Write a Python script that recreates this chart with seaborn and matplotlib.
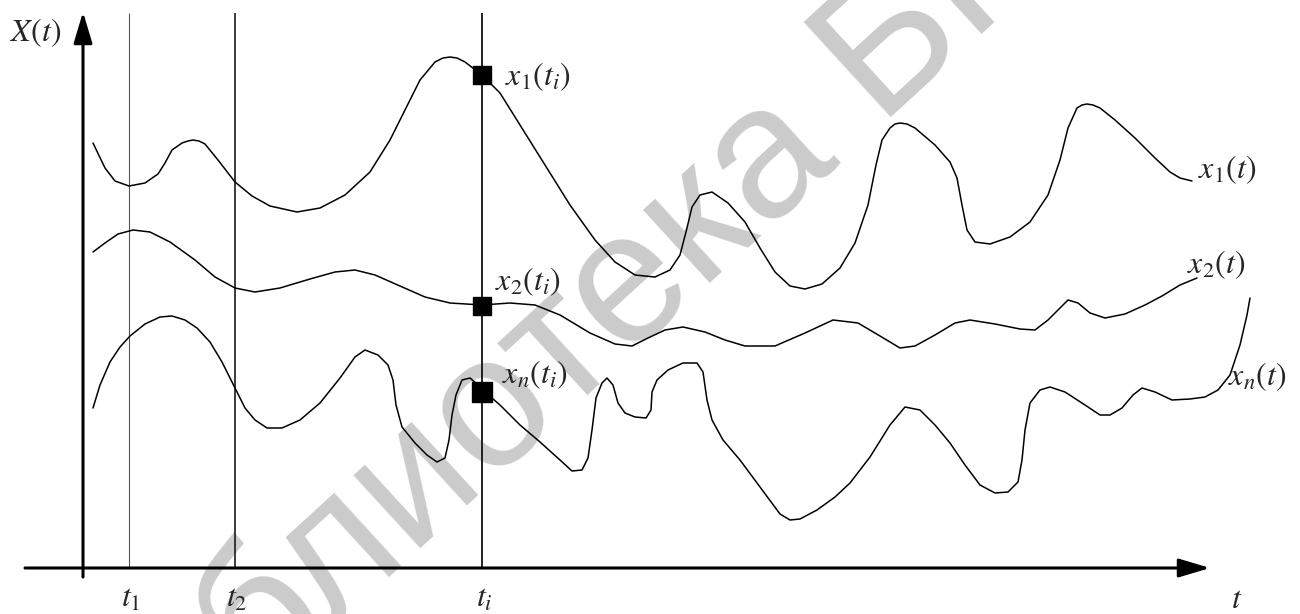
import numpy as np
import pandas as pd
import matplotlib
matplotlib.use("Agg")
import matplotlib.pyplot as plt
import seaborn as sns

# readings: t along the time axis, X up from the t axis
x1_t = [10, 22, 32, 46, 62, 75, 82, 89, 99, 105, 110, 116, 122, 135, 152, 169, 187, 214, 237, 262, 287, 307,
        322, 337, 352, 360, 367, 374, 382, 399, 417, 437, 462, 487, 512, 532, 552, 572, 587, 597, 603, 609, 617, 629,
        645, 662, 677, 692, 707, 722, 739, 757, 772, 785, 793, 799, 807, 812, 817, 824, 832, 852, 867, 874, 879, 884,
        892, 907, 927, 947, 965, 977, 985, 994, 999, 1004, 1010, 1017, 1032, 1052, 1072, 1087, 1097, 1109]
x1_X = [425, 400, 387, 382, 385, 394, 405, 418, 425, 427, 428, 427, 424, 408, 386, 372, 362, 356, 360, 373, 396, 428,
        458, 488, 506, 510, 511, 510, 506, 493, 475, 443, 403, 363, 328, 306, 293, 291, 298, 313, 336, 361, 373, 376,
        365, 346, 320, 296, 282, 279, 284, 300, 325, 363, 403, 428, 440, 444, 445, 444, 440, 423, 406, 390, 363, 338,
        326, 324, 331, 346, 373, 408, 440, 460, 463, 464, 463, 460, 448, 430, 410, 396, 390, 387]

x2_t = [10, 22, 35, 50, 67, 87, 112, 132, 152, 172, 197, 227, 252, 272, 292, 317, 342, 367, 399, 427,
        452, 477, 507, 532, 549, 565, 582, 600, 622, 642, 662, 692, 722, 750, 775, 797, 817, 832, 852, 872,
        887, 912, 937, 952, 965, 977, 985, 995, 1007, 1022, 1042, 1062, 1079, 1097, 1114]
x2_X = [316, 325, 334, 338, 336, 326, 308, 291, 280, 276, 280, 289, 296, 298, 293, 282, 271, 265, 263, 265,
        263, 253, 235, 224, 222, 230, 238, 241, 236, 228, 222, 222, 235, 248, 245, 232, 220, 222, 233, 245,
        248, 244, 239, 238, 248, 260, 268, 265, 255, 250, 254, 263, 272, 283, 290]

xn_t = [10, 17, 27, 37, 47, 62, 77, 89, 102, 114, 127, 139, 152, 162, 172, 184, 199, 217, 237, 257,
        272, 282, 295, 305, 310, 313, 319, 332, 344, 354, 362, 366, 369, 373, 379, 387, 395, 402, 417, 437,
        457, 477, 489, 499, 505, 509, 513, 519, 524, 530, 535, 542, 552, 563, 568, 569, 574, 585, 600, 614,
        620, 624, 629, 640, 657, 677, 697, 707, 717, 734, 752, 767, 787, 807, 822, 837, 852, 867, 882, 897,
        912, 925, 935, 939, 942, 947, 957, 967, 982, 1002, 1017, 1027, 1039, 1050, 1059, 1072, 1089, 1107,
        1122, 1135, 1147, 1157, 1164, 1167]
xn_X = [160, 183, 206, 221, 232, 244, 251, 252, 248, 240, 226, 206, 180, 160, 148, 140, 140, 148, 165, 190,
        211, 218, 213, 203, 188, 163, 141, 125, 113, 106, 110, 128, 153, 173, 188, 190, 183, 176, 163, 143,
        126, 108, 97, 98, 110, 138, 170, 185, 190, 183, 165, 155, 151, 150, 158, 176, 188, 198, 205, 205,
        196, 168, 148, 128, 108, 81, 54, 48, 49, 58, 71, 85, 111, 143, 161, 158, 143, 125, 103, 83,
        75, 76, 86, 108, 138, 165, 178, 181, 176, 163, 153, 153, 160, 173, 180, 176, 168, 169,
        171, 178, 193, 223, 253, 270]

# time cuts and the values read at t_i
cut_times = [46, 152, 399]
cut_labels = [r"$t_1$", r"$t_2$", r"$t_i$"]
ti_values = [493, 262, 176]
ti_labels = [r"$x_1(t_i)$", r"$x_2(t_i)$", r"$x_n(t_i)$"]
curve_labels = [r"$x_1(t)$", r"$x_2(t)$", r"$x_n(t)$"]

sns.set_theme(style="white")
plt.rcParams["mathtext.fontset"] = "stix"
plt.rcParams["font.family"] = ["Liberation Serif", "DejaVu Sans"]

fig = plt.figure(figsize=(13, 6.14), dpi=100)
ax = fig.add_axes([0, 0, 1, 1])
ax.set_xlim(-83, 1217)
ax.set_ylim(-46, 568)
ax.axis("off")

# watermark
ax.text(7, -284, "Библиотека БГУИР", fontsize=135, color="#cbcbcb",
        family="Liberation Sans", rotation=42.5, rotation_mode="anchor",
        ha="left", va="baseline", zorder=0)

# axes with arrows
arrow = dict(arrowstyle="-|>,head_length=1.0,head_width=0.3", lw=2.2, color="black",
             mutation_scale=19, shrinkA=0, shrinkB=0)
ax.annotate("", xy=(1127, 0), xytext=(-58, 0), arrowprops=arrow, zorder=5)
ax.annotate("", xy=(0, 556), xytext=(0, -9), arrowprops=arrow, zorder=5)

# vertical cuts
cut_styles = [("#555555", 0.8), ("#1a1a1a", 1.2), ("#111111", 1.3)]
for tc, (col, lw) in zip(cut_times, cut_styles):
    ax.vlines(tc, 0, 555, color=col, lw=lw, zorder=2)

# the realisations
curves = [(x1_t, x1_X), (x2_t, x2_X), (xn_t, xn_X)]
for tt, xx in curves:
    df = pd.DataFrame({"t": tt, "X": xx})
    sns.lineplot(data=df, x="t", y="X", sort=False, estimator=None,
                 color="black", lw=1.1, ax=ax, zorder=3)
for ln in ax.lines:
    ln.set_solid_joinstyle("round")

# section points at t_i
sizes = [150, 150, 220]
sns.scatterplot(x=[cut_times[2]] * 3, y=ti_values, size=sizes, sizes=(150, 220),
                marker="s", color="black", edgecolor="black", legend=False, ax=ax, zorder=4)

# text
fs = 23
ax.text(-73, 535, r"$X(t)$", fontsize=fs, va="center", ha="left")
for tc, lab in zip(cut_times, cut_labels):
    ax.text(tc + 2, -31, lab, fontsize=fs, va="center", ha="center")
ax.text(1154, -32, r"$t$", fontsize=fs, va="center", ha="center")

ax.text(422, 491, ti_labels[0], fontsize=fs, va="center", ha="left")
ax.text(412, 286, ti_labels[1], fontsize=fs, va="center", ha="left")
ax.text(419, 193, ti_labels[2], fontsize=fs, va="center", ha="left")

ax.text(1115, 398, curve_labels[0], fontsize=fs, va="center", ha="left")
ax.text(1104, 303, curve_labels[1], fontsize=fs, va="center", ha="left")
ax.text(1145, 191, curve_labels[2], fontsize=fs, va="center", ha="left")

fig.savefig("out.png", dpi=100, facecolor="white")
